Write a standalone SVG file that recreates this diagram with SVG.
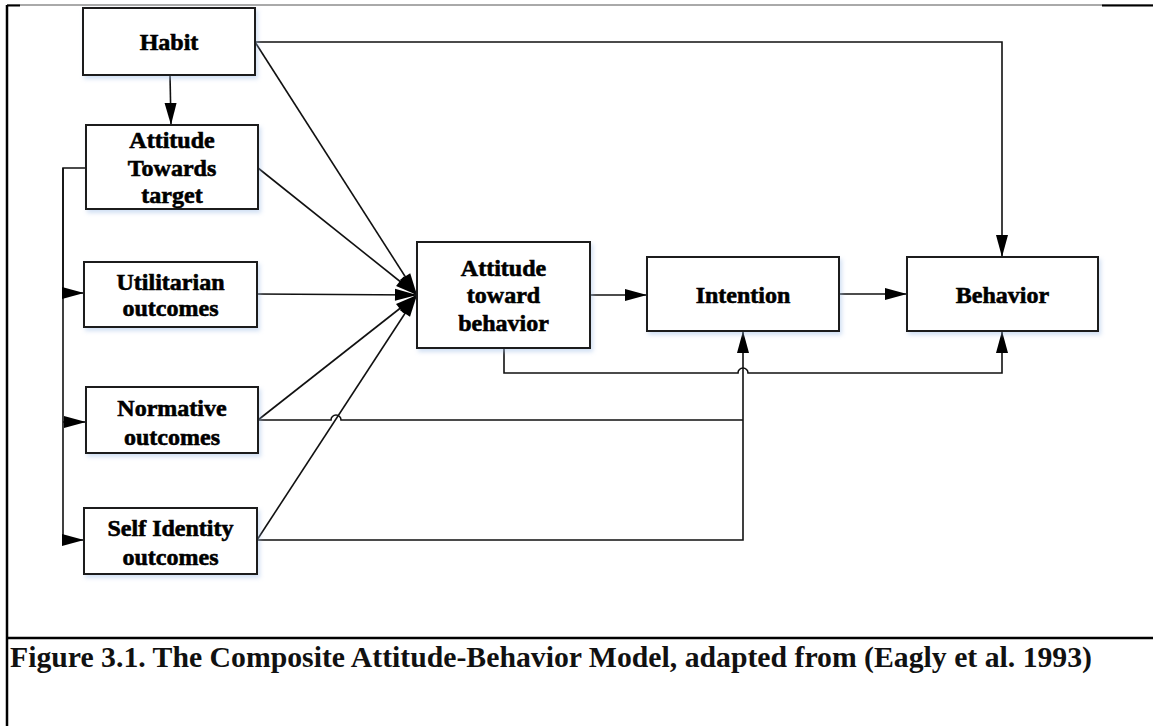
<svg xmlns="http://www.w3.org/2000/svg" width="1153" height="726" viewBox="0 0 1153 726">
  <style>
    .box { fill: #ffffff; stroke: #1a1a1a; stroke-width: 2; filter: url(#glow); }
    .lbl { font-family: "Liberation Serif", "Times New Roman", serif; font-weight: bold; font-size: 24px; fill: #000; stroke: #000; stroke-width: 0.6; text-anchor: middle; }
    .wire { fill: none; stroke: #111; stroke-width: 1.6; }
    .arr { marker-end: url(#head); }
    .frame { stroke: #000; stroke-width: 2.5; fill: none; }
    .cap { font-family: "Liberation Serif", "Times New Roman", serif; font-weight: bold; font-size: 29px; fill: #111; }
  </style>
  <defs>
    <marker id="head" markerUnits="userSpaceOnUse" markerWidth="24" markerHeight="14" refX="22" refY="6" orient="auto" overflow="visible">
      <path d="M0,0 L22,6 L0,12 Z" fill="#000"/>
    </marker>
    <filter id="glow" x="-10%" y="-10%" width="130%" height="140%">
      <feDropShadow dx="2" dy="3" stdDeviation="2" flood-color="#9bbbe6" flood-opacity="0.45"/>
    </filter>
  </defs>

  <rect width="1153" height="726" fill="#ffffff"/>

  <!-- page frame -->
  <g id="frame">
    <line x1="7" y1="5" x2="1153" y2="5" stroke="#555" stroke-width="1"/>
    <line x1="7" y1="5.5" x2="20" y2="5.5" stroke="#000" stroke-width="2"/>
    <line x1="1102" y1="5.5" x2="1153" y2="5.5" stroke="#000" stroke-width="2"/>
    <line class="frame" x1="7" y1="5" x2="7" y2="726"/>
    <line class="frame" x1="6" y1="638" x2="1153" y2="638"/>
  </g>

  <!-- connectors -->
  <g id="connectors">
    <!-- Habit to attitude towards target -->
    <path class="wire arr" d="M170,75 L171,125"/>
    <!-- Habit to behavior -->
    <path class="wire arr" d="M255,42 H1002 V257"/>
    <!-- fan into attitude toward behavior -->
    <path class="wire arr" d="M255,42 L417,295"/>
    <path class="wire arr" d="M258,168 L417,295"/>
    <path class="wire arr" d="M257,294 L417,295"/>
    <path class="wire arr" d="M258,420 L417,295"/>
    <path class="wire arr" d="M257,540 L417,295"/>
    <!-- bracket from attitude towards target -->
    <path class="wire" d="M86,168 H63 V540" />
    <path class="wire" d="M63,168 V293" stroke-width="3"/>
    <path class="wire arr" d="M63,293 H84"/>
    <path class="wire arr" d="M63,422 H86"/>
    <path class="wire arr" d="M63,540 H84"/>
    <!-- attitude toward behavior to intention -->
    <path class="wire arr" d="M590,295 H647"/>
    <!-- intention to behavior -->
    <path class="wire arr" d="M839,294 H907"/>
    <!-- attitude toward behavior to behavior, hopping the intention feed -->
    <path class="wire arr" d="M504,348 V373 H738 A5,5 0 0 1 748,373 H1002 V331"/>
    <!-- normative outcomes to intention, hopping the self identity line -->
    <path class="wire" d="M258,420 H331 A5,5 0 0 1 341,420 H743"/>
    <!-- self identity outcomes to intention -->
    <path class="wire arr" d="M257,540 H743 V331"/>
  </g>

  <!-- nodes -->
  <g id="habit">
    <rect class="box" x="83" y="8" width="172" height="67"/>
    <text class="lbl" x="169" y="50">Habit</text>
  </g>
  <g id="attitude-target">
    <rect class="box" x="86" y="125" width="172" height="84"/>
    <text class="lbl" x="172" y="148">Attitude</text>
    <text class="lbl" x="172" y="176">Towards</text>
    <text class="lbl" x="172" y="203">target</text>
  </g>
  <g id="utilitarian">
    <rect class="box" x="84" y="262" width="173" height="65"/>
    <text class="lbl" x="170.5" y="290">Utilitarian</text>
    <text class="lbl" x="170.5" y="316">outcomes</text>
  </g>
  <g id="normative">
    <rect class="box" x="86" y="387" width="172" height="66"/>
    <text class="lbl" x="172" y="416">Normative</text>
    <text class="lbl" x="172" y="445">outcomes</text>
  </g>
  <g id="self-identity">
    <rect class="box" x="84" y="508" width="173" height="66"/>
    <text class="lbl" x="170.5" y="536">Self Identity</text>
    <text class="lbl" x="170.5" y="565">outcomes</text>
  </g>
  <g id="attitude-behavior">
    <rect class="box" x="417" y="242" width="173" height="106"/>
    <text class="lbl" x="503.5" y="276">Attitude</text>
    <text class="lbl" x="503.5" y="303">toward</text>
    <text class="lbl" x="503.5" y="331">behavior</text>
  </g>
  <g id="intention">
    <rect class="box" x="647" y="257" width="192" height="74"/>
    <text class="lbl" x="743" y="303">Intention</text>
  </g>
  <g id="behavior">
    <rect class="box" x="907" y="257" width="191" height="74"/>
    <text class="lbl" x="1002.5" y="303">Behavior</text>
  </g>

  <!-- caption -->
  <text class="cap" x="10" y="667" textLength="1082" lengthAdjust="spacingAndGlyphs">Figure 3.1. The Composite Attitude-Behavior Model, adapted from (Eagly et al. 1993)</text>
</svg>
